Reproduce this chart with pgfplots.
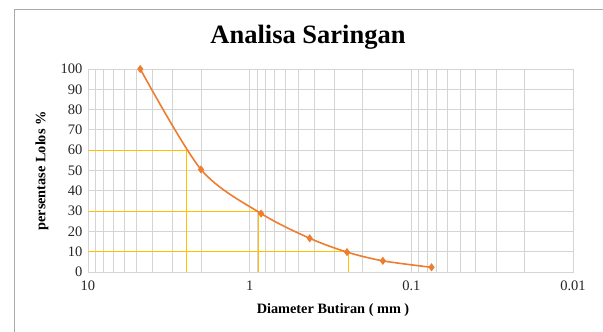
\documentclass[border=0pt]{standalone}
\usepackage{pgfplots}
\pgfplotsset{compat=1.18}
\usepackage{fontspec}
\setmainfont{Liberation Serif}
\definecolor{orng}{RGB}{237,125,49}
\definecolor{ylw}{RGB}{255,192,0}
\definecolor{grd}{RGB}{212,212,212}
\definecolor{frm}{RGB}{170,170,170}
\begin{document}
\begin{tikzpicture}[x=1pt,y=1pt]
\useasboundingbox (0,0) rectangle (603,332);
\draw[frm,line width=0.8pt] (14,0) -- (14,323) -- (603,323);
\begin{axis}[
  at={(88pt,60pt)}, anchor=south west,
  width=485pt, height=203pt, scale only axis,
  xmode=log, x dir=reverse,
  xmin=0.01, xmax=10, ymin=0, ymax=100,
  xtick={10,1,0.1,0.01}, xticklabels={10,1,0.1,0.01},
  minor xtick={2,3,4,5,6,7,8,9,0.2,0.3,0.4,0.5,0.6,0.7,0.8,0.9,0.02,0.03,0.04,0.05,0.06,0.07,0.08,0.09},
  ytick={0,10,...,100},
  grid=both,
  major grid style={grd, line width=0.9pt},
  minor grid style={grd, line width=0.7pt},
  axis line style={grd, line width=0.9pt},
  tick style={draw=none},
  /pgf/number format/assume math mode=true,
  ticklabel style={font=\fontsize{14.5}{16}\selectfont, text=black!85},
  xticklabel style={yshift=-5pt},
  yticklabel style={xshift=-2pt},
  clip=false,
]
\addplot[ylw, line width=1.1pt] coordinates {(10,60) (2.45,60) (2.45,0)};
\addplot[ylw, line width=1.1pt] coordinates {(10,30) (0.88,30) (0.88,0)};
\addplot[ylw, line width=1.1pt] coordinates {(10,10) (0.244,10) (0.244,0)};
\addplot[orng, line width=1.6pt, smooth, tension=0.5, mark=diamond*, mark size=2.8pt,
  mark options={fill=orng, draw=orng}] coordinates {
  (4.75,100) (2.0,50.5) (0.85,28.8) (0.425,16.6) (0.25,9.8) (0.15,5.5) (0.075,2.3)
};
\end{axis}
\node[font=\fontsize{26.5}{30}\selectfont\bfseries] at (308,295) {Analisa Saringan};
\node[font=\fontsize{14.3}{16}\selectfont\bfseries] at (333,22) {Diameter Butiran ( mm )};
\node[font=\fontsize{14.3}{16}\selectfont\bfseries, rotate=90] at (42,161) {persentase Lolos \%};
\end{tikzpicture}
\end{document}
